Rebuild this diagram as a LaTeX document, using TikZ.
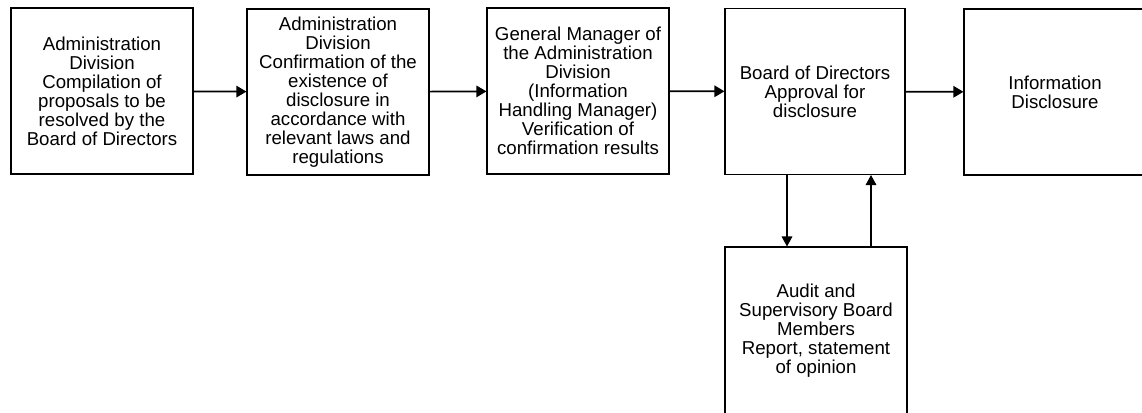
\documentclass[tikz,border=0pt]{standalone}
\usepackage{fontspec}
\setmainfont{Liberation Sans}
\usetikzlibrary{arrows.meta}

\begin{document}
\begin{tikzpicture}[x=0.75pt, y=-0.75pt,
			box/.style={draw, line width=0.8pt, rectangle, minimum width=136.5pt, minimum height=124.5pt, align=center, inner sep=0pt, font=\fontsize{14}{14.25}\selectfont},
			flow/.style={-{Triangle[length=7.5pt,width=8.5pt]}, line width=1.3pt},
			back/.style={-{Triangle[length=7.5pt,width=8pt]}, line width=0.8pt}]
			\useasboundingbox (0,0) rectangle (1142,412);
			\clip (0,0) rectangle (1142,412);
			\node [box] (b1) at (102, 91) {Administration\\Division\\Compilation of\\proposals to be\\resolved by the\\Board of Directors};
			\node [box] (b2) at (338, 92) {Administration\\Division\\Confirmation of the\\existence of\\disclosure in\\accordance with\\relevant laws and\\regulations};
			\node [box] (b3) at (578, 91) {General Manager of\\the Administration\\Division\\(Information\\Handling Manager)\\Verification of\\confirmation results};
			\node [box, minimum width=135pt] (b4) at (815, 91.5) {Board of Directors\\Approval for\\disclosure};
			\node [box] (b5) at (1055, 92) {Information\\Disclosure};
			\node [box, minimum height=126pt] (b6) at (816, 331) {Audit and\\Supervisory Board\\Members\\Report, statement\\of opinion};
			\draw [flow] (b1) -- (b2);
			\draw [flow] (b2) -- (b3);
			\draw [flow] (b3) -- (b4);
			\draw [flow] (b4) -- (b5);
			\draw [back] ([xshift=-21pt]b4.south) -- ([xshift=-21.75pt]b6.north);
			\draw [back] ([xshift=41.25pt]b6.north) -- ([xshift=42pt]b4.south);
\end{tikzpicture}
\end{document}
